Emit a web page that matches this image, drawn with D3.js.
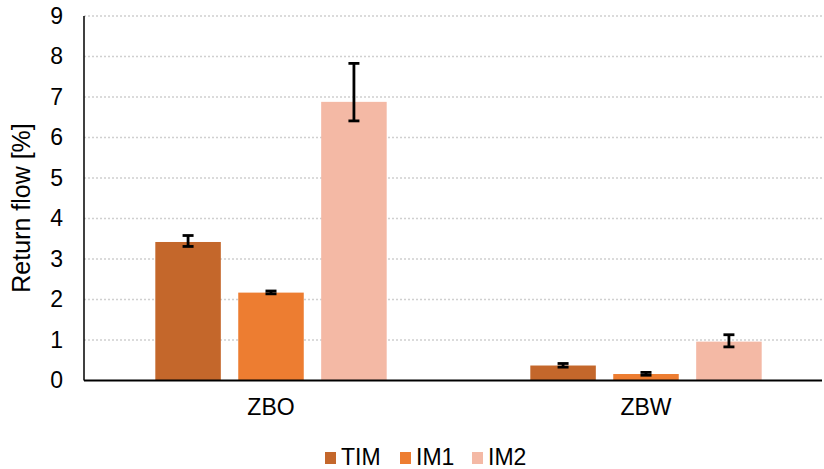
<!DOCTYPE html>
<html><head><meta charset="utf-8">
<script src="https://cdn.jsdelivr.net/npm/d3@7"></script>
<style>body{margin:0;background:#fff}svg{display:block;font-family:"Liberation Sans",Arial,sans-serif}</style>
</head><body><svg id="c" width="824" height="469"></svg>
<script>
const categories = ["ZBO", "ZBW"];
const seriesNames = ["TIM", "IM1", "IM2"];
const seriesColors = ["#C4672B", "#ED7D31", "#F4B9A5"];
const TIM = [3.42, 0.37];
const IM1 = [2.17, 0.16];
const IM2 = [6.88, 0.96];
const upperTIM = [3.58, 0.42];
const lowerTIM = [3.31, 0.33];
const upperIM1 = [2.21, 0.20];
const lowerIM1 = [2.14, 0.13];
const upperIM2 = [7.83, 1.13];
const lowerIM2 = [6.41, 0.83];
const yTicks = [0,1,2,3,4,5,6,7,8,9];
const yLabel = "Return flow [%]";

const values = [TIM, IM1, IM2];
const uppers = [upperTIM, upperIM1, upperIM2];
const lowers = [lowerTIM, lowerIM1, lowerIM2];
const FS = 23;
const FF = "Liberation Sans, Arial, sans-serif";

const svg = d3.select("#c");
const pLeft = 84, pRight = 833.5, pTop = 16, pBottom = 380.5, gridEnd = 822;

const y = d3.scaleLinear().domain([0, 9]).range([pBottom, pTop]);
const x0 = d3.scaleBand().domain(categories).range([83.5, pRight]).paddingInner(0.383).paddingOuter(0.1915);
const x1 = d3.scaleBand().domain(seriesNames).range([0, x0.bandwidth()]).paddingInner(0.21).paddingOuter(0);

// gridlines
svg.append("g").selectAll("line").data(yTicks.filter(d => d > 0)).join("line")
  .attr("x1", pLeft).attr("x2", gridEnd)
  .attr("y1", d => y(d)).attr("y2", d => y(d))
  .attr("stroke", "#d0d0d0").attr("stroke-width", 1.3).attr("stroke-dasharray", "2,2");

// y tick labels
const yAxis = d3.axisLeft(y).tickValues(yTicks).tickSize(0).tickPadding(21).tickFormat(d3.format("d"));
const gy = svg.append("g").attr("transform", `translate(${pLeft},0)`).call(yAxis);
gy.select(".domain").remove();
gy.selectAll("text").attr("font-size", FS).attr("fill", "#000").attr("font-family", FF);

// bars
categories.forEach((c, ci) => {
  const g = svg.append("g").attr("transform", `translate(${x0(c)},0)`);
  seriesNames.forEach((s, si) => {
    const v = values[si][ci];
    g.append("rect").attr("x", x1(s)).attr("y", y(v))
      .attr("width", x1.bandwidth()).attr("height", y(0) - y(v))
      .attr("fill", seriesColors[si]);
  });
  seriesNames.forEach((s, si) => {
    const hi = uppers[si][ci], lo = lowers[si][ci];
    const cx = x1(s) + x1.bandwidth() / 2;
    const eg = g.append("g").attr("stroke", "#000").attr("stroke-width", 2.8);
    eg.append("line").attr("x1", cx).attr("x2", cx).attr("y1", y(hi)).attr("y2", y(lo));
    [hi, lo].forEach(t => eg.append("line").attr("x1", cx - 5.5).attr("x2", cx + 5.5).attr("y1", y(t)).attr("y2", y(t)));
  });
});

// axes lines
svg.append("line").attr("x1", pLeft).attr("x2", pLeft).attr("y1", pTop).attr("y2", pBottom).attr("stroke", "#000").attr("stroke-width", 1.5);
svg.append("line").attr("x1", pLeft).attr("x2", gridEnd).attr("y1", pBottom).attr("y2", pBottom).attr("stroke", "#000").attr("stroke-width", 2);

// x labels
const xAxis = d3.axisBottom(x0).tickSize(0).tickPadding(18);
const gx = svg.append("g").attr("transform", `translate(0,${pBottom})`).call(xAxis);
gx.select(".domain").remove();
gx.selectAll("text").attr("font-size", FS).attr("fill", "#000").attr("font-family", FF);

// y label
svg.append("text").attr("transform", `translate(30,${208}) rotate(-90)`)
  .attr("text-anchor", "middle").attr("font-size", 25).attr("font-family", FF).attr("fill", "#000").text(yLabel);

// legend
const legX = [325, 400, 472];
const lg = svg.append("g");
seriesNames.forEach((s, i) => {
  lg.append("rect").attr("x", legX[i]).attr("y", 452).attr("width", 11).attr("height", 12).attr("fill", seriesColors[i]);
  lg.append("text").attr("x", legX[i] + 16).attr("y", 465).attr("font-size", FS).attr("font-family", FF).attr("fill", "#000").text(s);
});
</script></body></html>
